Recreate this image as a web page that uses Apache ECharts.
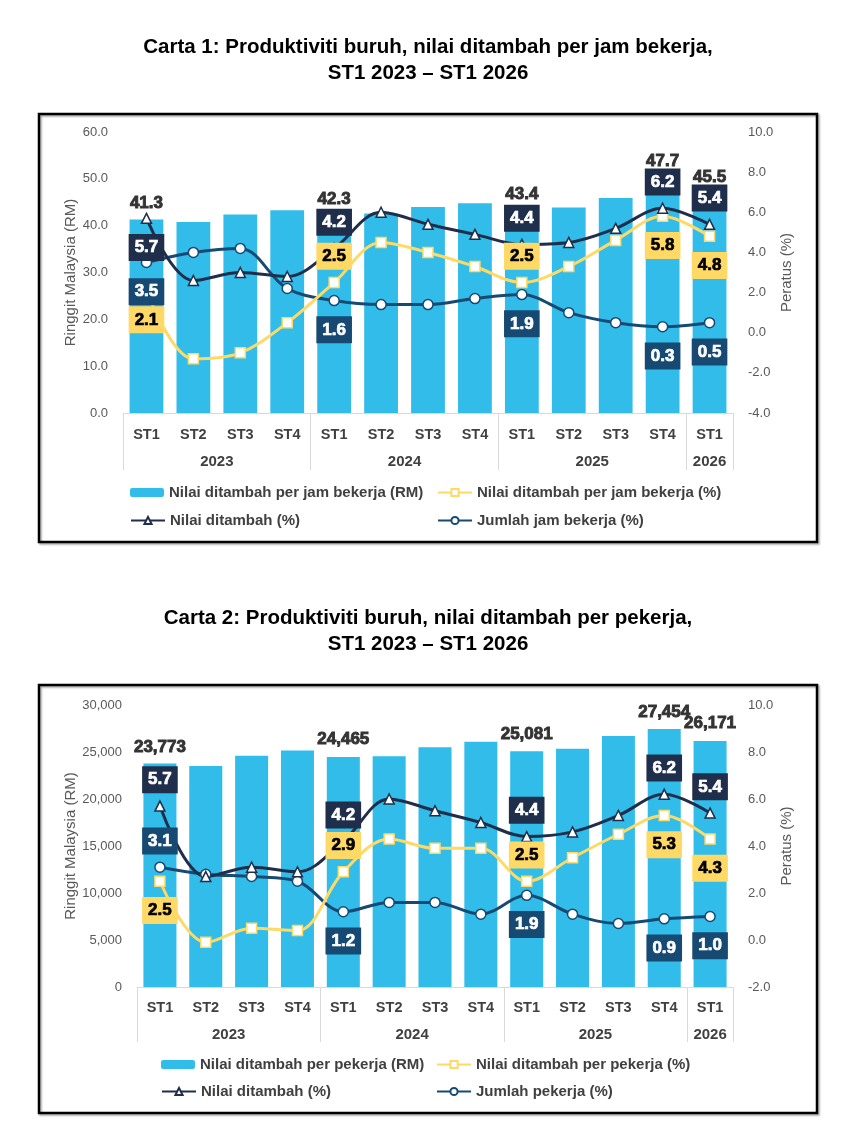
<!DOCTYPE html>
<html>
<head>
<meta charset="utf-8">
<script src="https://cdn.jsdelivr.net/npm/echarts@6/dist/echarts.min.js"></script>
<style>
  html, body { margin: 0; padding: 0; background: #fff; }
  #main { width: 848px; height: 1146px; }
</style>
</head>
<body>
<div id="main"></div>
<script>
// ---- data ----
var quarters = ['ST1', 'ST2', 'ST3', 'ST4', 'ST1', 'ST2', 'ST3', 'ST4', 'ST1', 'ST2', 'ST3', 'ST4', 'ST1'];
var years = ['2023', '2024', '2025', '2026'];
var yearSpans = [4, 4, 4, 1];

// Carta 1
var perJamRM = [41.3, 40.8, 42.4, 43.3, 42.3, 42.6, 44.0, 44.8, 43.4, 43.9, 45.9, 47.7, 45.5];
var perJamPct = [2.1, -1.3, -1.0, 0.5, 2.5, 4.5, 4.0, 3.3, 2.5, 3.3, 4.6, 5.8, 4.8];
var nilaiPct1 = [5.7, 2.6, 3.0, 2.8, 4.2, 6.0, 5.4, 4.9, 4.4, 4.5, 5.2, 6.2, 5.4];
var jamPct = [3.5, 4.0, 4.2, 2.2, 1.6, 1.4, 1.4, 1.7, 1.9, 1.0, 0.5, 0.3, 0.5];

// Carta 2
var perPekerjaRM = [23773, 23500, 24600, 25150, 24465, 24550, 25500, 26100, 25081, 25350, 26700, 27454, 26171];
var perPekerjaPct = [2.5, -0.1, 0.5, 0.4, 2.9, 4.3, 3.9, 3.9, 2.5, 3.5, 4.5, 5.3, 4.3];
var nilaiPct2 = [5.7, 2.7, 3.1, 2.9, 4.2, 6.0, 5.5, 5.0, 4.4, 4.6, 5.3, 6.2, 5.4];
var pekerjaPct = [3.1, 2.8, 2.7, 2.5, 1.2, 1.6, 1.6, 1.1, 1.9, 1.1, 0.7, 0.9, 1.0];

// ---- style ----
var C_BAR = '#31bce9';
var C_NAVY = '#1f2e4b';
var C_BLUE = '#174a73';
var C_YEL = '#ffd966';
var FONT = 'Liberation Sans, Arial, sans-serif';

// which points carry a value label, and on which side (t = above, b = below)
var shown = [0, 4, 8, 11, 12];
var side1 = {
    nilai: {0: 'b', 4: 't', 8: 't', 11: 't', 12: 't'},
    perJam: {0: 'b', 4: 't', 8: 't', 11: 'b', 12: 'b'},
    jumlah: {0: 'b', 4: 'b', 8: 'b', 11: 'b', 12: 'b'}
};
var side2 = {
    nilai: {0: 't', 4: 't', 8: 't', 11: 't', 12: 't'},
    perJam: {0: 'b', 4: 't', 8: 't', 11: 'b', 12: 'b'},
    jumlah: {0: 't', 4: 'b', 8: 'b', 11: 'b', 12: 'b'}
};
// gap between bar top and its value label
var barLift1 = {0: 8, 4: 7, 8: 7, 11: 20, 12: 14};
var barLift2 = {0: 8, 4: 9, 8: 8, 11: 8, 12: 9};

// year ticks / label centres from spans
var yearEdges = [0];
var yearMids = [];
yearSpans.forEach(function (s, i) {
    yearMids.push(yearEdges[i] + s / 2);
    yearEdges.push(yearEdges[i] + s);
});

function lineData(vals, sides, bg, fg) {
    return vals.map(function (v, i) {
        if (shown.indexOf(i) < 0) return v;
        var up = sides[i] === 't';
        return {
            value: v,
            label: {
                show: true,
                position: up ? 'top' : 'bottom',
                distance: up ? 7 : 10,
                formatter: function (p) { return p.value.toFixed(1); },
                backgroundColor: bg,
                color: fg,
                textBorderColor: fg,
                textBorderWidth: 0.7,
                fontFamily: FONT,
                fontSize: 17,
                lineHeight: 17,
                fontWeight: 'bold',
                padding: [5, 6, 5, 6]
            }
        };
    });
}

function barData(vals, lift, fmt) {
    return vals.map(function (v, i) {
        if (!(i in lift)) return v;
        return {
            value: v,
            label: {
                show: true,
                position: 'top',
                distance: lift[i],
                formatter: function (p) { return fmt(p.value); },
                color: '#333333',
                textBorderColor: '#333333',
                textBorderWidth: 0.9,
                fontFamily: FONT,
                fontSize: 17,
                fontWeight: 'bold'
            }
        };
    });
}

function lineSeries(name, vals, sides, color, symbol, labelBg, labelFg, xi, yi) {
    return {
        name: name,
        type: 'line',
        xAxisIndex: xi,
        yAxisIndex: yi,
        smooth: 0.35,
        symbol: symbol,
        symbolSize: 10,
        lineStyle: {color: color, width: 3},
        itemStyle: {color: '#ffffff', borderColor: color, borderWidth: 1.5},
        data: lineData(vals, sides, labelBg, labelFg),
        z: 3
    };
}

function xAxes(gridIndex, tickLen, qMargin, yMargin) {
    return [{
        type: 'category',
        gridIndex: gridIndex,
        data: quarters,
        axisLine: {onZero: false, lineStyle: {color: '#d9d9d9', width: 1}},
        axisTick: {show: false},
        axisLabel: {interval: 0, margin: qMargin, color: '#404040', fontFamily: FONT, fontSize: 14.5, fontWeight: 'bold'}
    }, {
        type: 'value',
        gridIndex: gridIndex,
        position: 'bottom',
        min: 0,
        max: yearEdges[yearEdges.length - 1],
        axisLine: {show: false, onZero: false},
        splitLine: {show: false},
        axisTick: {show: true, customValues: yearEdges, length: tickLen, lineStyle: {color: '#d9d9d9', width: 1}},
        axisLabel: {
            customValues: yearMids, margin: yMargin, color: '#404040', fontFamily: FONT, fontSize: 15, fontWeight: 'bold',
            formatter: function (v) {
                var k = yearMids.indexOf(v);
                return k < 0 ? '' : years[k];
            }
        }
    }];
}

function yAxis(gridIndex, pos, min, max, step, name, gap, fmt) {
    return {
        type: 'value',
        gridIndex: gridIndex,
        position: pos,
        min: min,
        max: max,
        interval: step,
        name: name,
        nameLocation: 'middle',
        nameRotate: 90,
        nameGap: gap,
        nameMoveOverlap: false,
        nameTextStyle: {color: '#595959', fontFamily: FONT, fontSize: 15},
        axisLine: {show: false},
        axisTick: {show: false},
        splitLine: {show: false},
        axisLabel: {margin: 15, color: '#595959', fontFamily: FONT, fontSize: 13, formatter: fmt}
    };
}

function oneDec(v) { return v.toFixed(1); }
function thousands(v) { return Math.round(v).toLocaleString('en-US'); }

function legendItem(name, left, top) {
    return {
        data: [name],
        left: left,
        top: top,
        padding: 0,
        itemWidth: 34,
        itemHeight: 9,
        textStyle: {color: '#404040', fontFamily: FONT, fontSize: 15, fontWeight: 'bold'}
    };
}

var n1 = ['Nilai ditambah per jam bekerja (RM)', 'Nilai ditambah per jam bekerja (%)', 'Nilai ditambah (%)', 'Jumlah jam bekerja (%)'];
var n2 = ['Nilai ditambah per pekerja (RM)', 'Nilai ditambah per pekerja (%)', 'Nilai ditambah (%)', 'Jumlah pekerja (%)'];

var titleStyle = {fill: '#000', font: 'bold 20.5px ' + FONT, textAlign: 'center', textVerticalAlign: 'middle'};
var boxStyle = {fill: 'none', stroke: '#000', lineWidth: 2.5, shadowBlur: 2, shadowOffsetX: 1.5, shadowOffsetY: 1.5, shadowColor: 'rgba(0,0,0,0.35)'};

var chart = echarts.init(document.getElementById('main'), null, {renderer: 'canvas'});
chart.setOption({
    animation: false,
    backgroundColor: '#ffffff',
    graphic: [
        {type: 'text', x: 428, y: 47, style: Object.assign({text: 'Carta 1: Produktiviti buruh, nilai ditambah per jam bekerja,'}, titleStyle)},
        {type: 'text', x: 428, y: 73, style: Object.assign({text: 'ST1 2023 \u2013 ST1 2026'}, titleStyle)},
        {type: 'text', x: 428, y: 618, style: Object.assign({text: 'Carta 2: Produktiviti buruh, nilai ditambah per pekerja,'}, titleStyle)},
        {type: 'text', x: 428, y: 644, style: Object.assign({text: 'ST1 2023 \u2013 ST1 2026'}, titleStyle)},
        {type: 'rect', shape: {x: 39, y: 114, width: 778, height: 428}, style: boxStyle},
        {type: 'rect', shape: {x: 39, y: 685, width: 778, height: 428}, style: boxStyle}
    ],
    grid: [
        {left: 123, right: 115, top: 132, height: 281},
        {left: 137, right: 115, top: 705, height: 282}
    ],
    xAxis: xAxes(0, 57, 14, 41).concat(xAxes(1, 55, 13, 40)),
    yAxis: [
        yAxis(0, 'left', 0, 60, 10, 'Ringgit Malaysia (RM)', 45, oneDec),
        yAxis(0, 'right', -4, 10, 2, 'Peratus (%)', 46, oneDec),
        yAxis(1, 'left', 0, 30000, 5000, 'Ringgit Malaysia (RM)', 59, thousands),
        yAxis(1, 'right', -2, 10, 2, 'Peratus (%)', 46, oneDec)
    ],
    legend: [
        legendItem(n1[0], 130, 485), legendItem(n1[1], 437, 485),
        legendItem(n1[2], 130, 513), legendItem(n1[3], 437, 513),
        legendItem(n2[0], 161, 1057), legendItem(n2[1], 436, 1057),
        legendItem(n2[2], 161, 1084), legendItem(n2[3], 436, 1084)
    ],
    series: [
        {
            name: n1[0], type: 'bar', xAxisIndex: 0, yAxisIndex: 0, barWidth: '72%',
            itemStyle: {color: C_BAR},
            data: barData(perJamRM, barLift1, oneDec), z: 2
        },
        lineSeries(n1[3], jamPct, side1.jumlah, C_BLUE, 'circle', C_BLUE, '#fff', 0, 1),
        lineSeries(n1[1], perJamPct, side1.perJam, C_YEL, 'rect', C_YEL, '#000', 0, 1),
        lineSeries(n1[2], nilaiPct1, side1.nilai, C_NAVY, 'triangle', C_NAVY, '#fff', 0, 1),
        {
            name: n2[0], type: 'bar', xAxisIndex: 2, yAxisIndex: 2, barWidth: '72%',
            itemStyle: {color: C_BAR},
            data: barData(perPekerjaRM, barLift2, thousands), z: 2
        },
        lineSeries(n2[3], pekerjaPct, side2.jumlah, C_BLUE, 'circle', C_BLUE, '#fff', 2, 3),
        lineSeries(n2[1], perPekerjaPct, side2.perJam, C_YEL, 'rect', C_YEL, '#000', 2, 3),
        lineSeries(n2[2], nilaiPct2, side2.nilai, C_NAVY, 'triangle', C_NAVY, '#fff', 2, 3)
    ]
});
</script>
</body>
</html>
